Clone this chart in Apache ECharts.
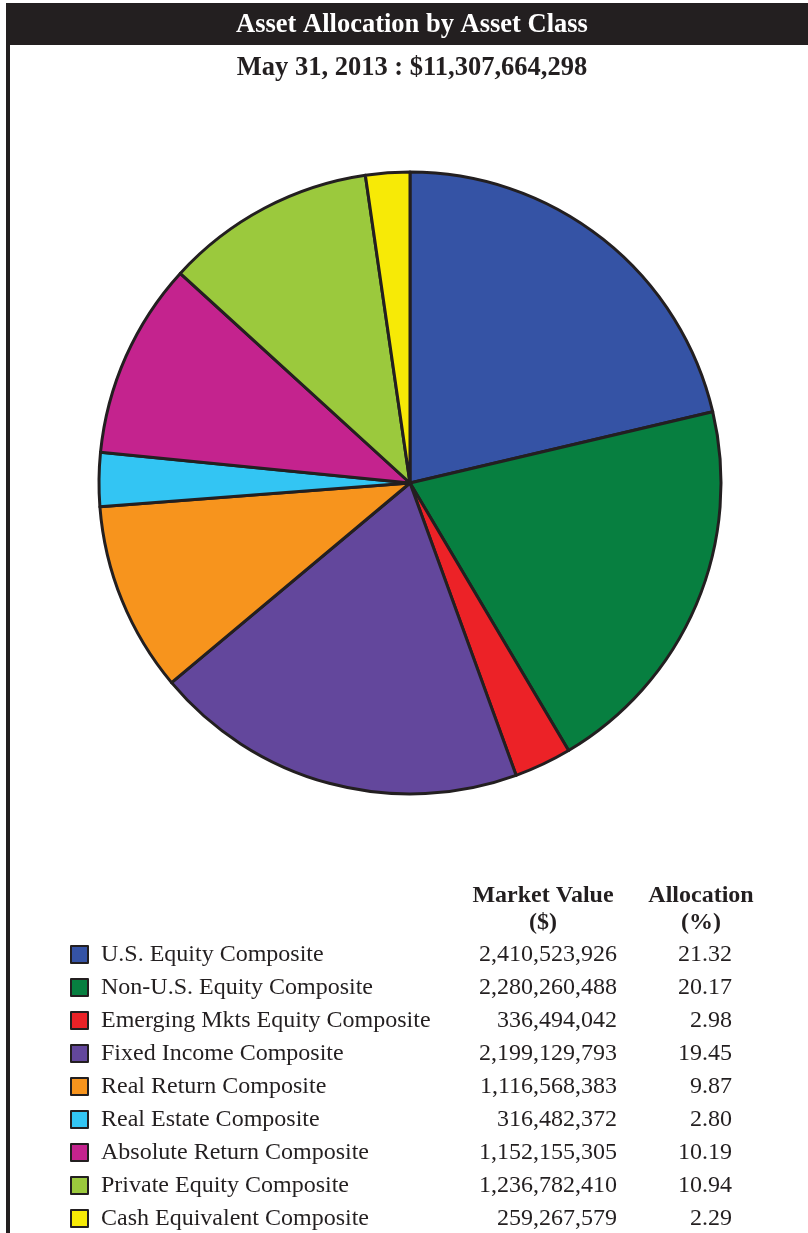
<!DOCTYPE html>
<html>
<head>
<meta charset="utf-8">
<script src="https://cdn.jsdelivr.net/npm/echarts@6/dist/echarts.min.js"></script>
<style>
html,body{margin:0;padding:0;background:#fff;}
#chart{width:808px;height:1233px;}
</style>
</head>
<body>
<div id="chart"></div>
<script>
const title = 'Asset Allocation by Asset Class';
const subtitle = 'May 31, 2013 : $11,307,664,298';
const categories = [
  'U.S. Equity Composite',
  'Non-U.S. Equity Composite',
  'Emerging Mkts Equity Composite',
  'Fixed Income Composite',
  'Real Return Composite',
  'Real Estate Composite',
  'Absolute Return Composite',
  'Private Equity Composite',
  'Cash Equivalent Composite'
];
const marketValues = [2410523926, 2280260488, 336494042, 2199129793, 1116568383, 316482372, 1152155305, 1236782410, 259267579];
const allocations = ['21.32', '20.17', '2.98', '19.45', '9.87', '2.80', '10.19', '10.94', '2.29'];
const colors = ['#3553a5', '#077f40', '#ec2227', '#63479c', '#f7941d', '#33c5f3', '#c4238e', '#9bc93d', '#f7ea06'];
const columnHeaders = [['Market Value', '($)'], ['Allocation', '(%)']];

const ink = '#231f20';
const serif = '"Liberation Serif", "Times New Roman", serif';
const fmt = v => v.toLocaleString('en-US');

const chart = echarts.init(document.getElementById('chart'));
chart.setOption({
  animation: false,
  graphic: [
    { type: 'rect', shape: { x: 6, y: 3, width: 802, height: 42 }, style: { fill: ink } },
    { type: 'rect', shape: { x: 6, y: 3, width: 4, height: 1230 }, style: { fill: ink } },
    { type: 'text', x: 412, y: 25.5, style: { text: title, fill: '#fff', font: 'bold 26.5px ' + serif, textAlign: 'center', textVerticalAlign: 'middle' } },
    { type: 'text', x: 412, y: 68.5, style: { text: subtitle, fill: ink, font: 'bold 26.5px ' + serif, textAlign: 'center', textVerticalAlign: 'middle' } },
    { type: 'text', x: 543, y: 895.5, style: { text: columnHeaders[0][0], fill: ink, font: 'bold 24px ' + serif, textAlign: 'center', textVerticalAlign: 'middle' } },
    { type: 'text', x: 543, y: 922.5, style: { text: columnHeaders[0][1], fill: ink, font: 'bold 24px ' + serif, textAlign: 'center', textVerticalAlign: 'middle' } },
    { type: 'text', x: 701, y: 895.5, style: { text: columnHeaders[1][0], fill: ink, font: 'bold 24px ' + serif, textAlign: 'center', textVerticalAlign: 'middle' } },
    { type: 'text', x: 701, y: 922.5, style: { text: columnHeaders[1][1], fill: ink, font: 'bold 24px ' + serif, textAlign: 'center', textVerticalAlign: 'middle' } }
  ],
  legend: {
    orient: 'vertical',
    left: 70,
    top: 942.5,
    height: 300,
    padding: 0,
    itemWidth: 17,
    itemHeight: 17,
    itemGap: 9,
    icon: 'rect',
    selectedMode: false,
    data: categories,
    formatter: name => {
      const i = categories.indexOf(name);
      return '{a|' + name + '}{b|' + fmt(marketValues[i]) + '}{c|' + allocations[i] + '}';
    },
    textStyle: {
      color: ink,
      fontFamily: serif,
      fontSize: 24,
      lineHeight: 24,
      rich: {
        a: { width: 370, fontSize: 24, fontFamily: serif, color: ink, lineHeight: 24, padding: [0, 0, 0, 8] },
        b: { width: 146, fontSize: 24, fontFamily: serif, color: ink, align: 'right', lineHeight: 24 },
        c: { width: 115, fontSize: 24, fontFamily: serif, color: ink, align: 'right', lineHeight: 24 }
      }
    }
  },
  series: [{
    type: 'pie',
    center: [410, 483],
    radius: [0, 311],
    startAngle: 90,
    clockwise: true,
    label: { show: false },
    labelLine: { show: false },
    emphasis: { disabled: true },
    itemStyle: { borderColor: ink, borderWidth: 3 },
    data: categories.map((c, i) => ({ name: c, value: marketValues[i], itemStyle: { color: colors[i] } }))
  }]
});
</script>
</body>
</html>
